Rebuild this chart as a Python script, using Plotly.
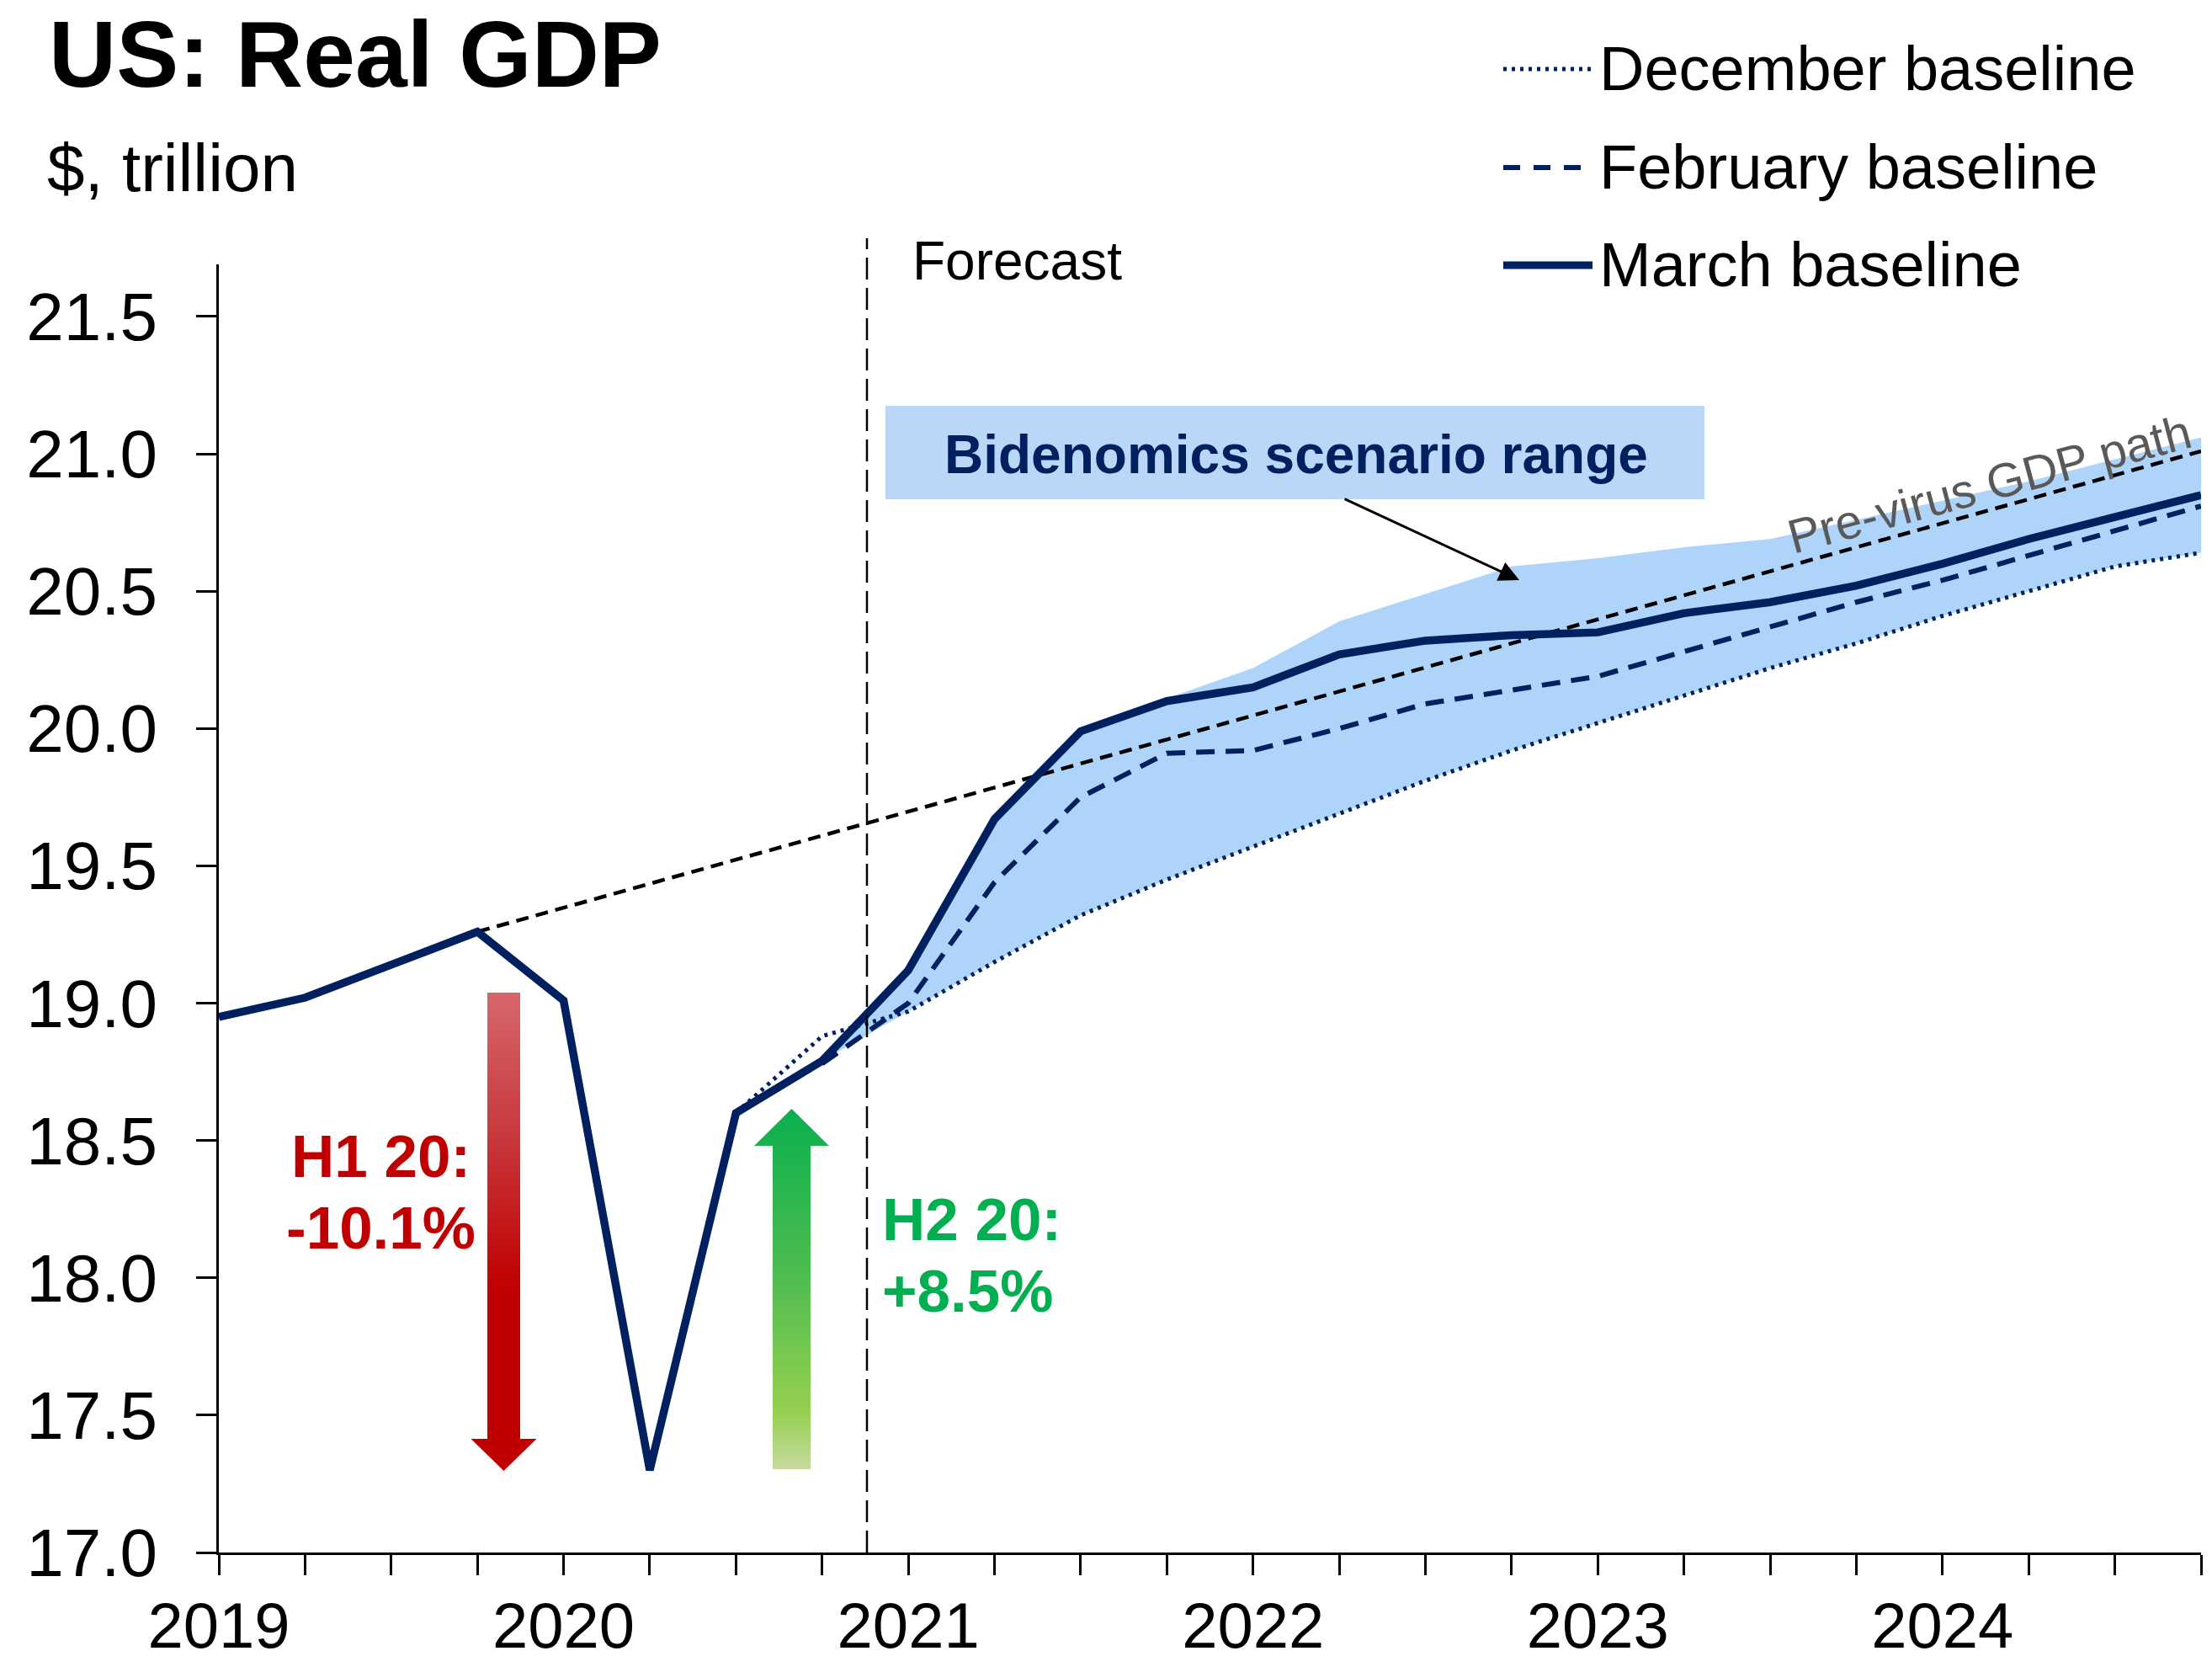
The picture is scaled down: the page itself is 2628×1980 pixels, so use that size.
import plotly.graph_objects as go

# ---------------- data ----------------
quarters = ["2019Q1", "2019Q2", "2019Q3", "2019Q4",
            "2020Q1", "2020Q2", "2020Q3", "2020Q4",
            "2021Q1", "2021Q2", "2021Q3", "2021Q4",
            "2022Q1", "2022Q2", "2022Q3", "2022Q4",
            "2023Q1", "2023Q2", "2023Q3", "2023Q4",
            "2024Q1", "2024Q2", "2024Q3", "2024Q4"]

march_baseline = [18.95, 19.02, 19.14, 19.26, 19.01, 17.30, 18.60, 18.79,
                  19.12, 19.67, 19.99, 20.10, 20.15, 20.27, 20.32, 20.34,
                  20.35, 20.42, 20.46, 20.52, 20.60, 20.69, 20.77, 20.85]

december_quarters = quarters[6:]
december_baseline = [18.60, 18.88,
                     18.97, 19.15, 19.32, 19.45,
                     19.57, 19.69, 19.81, 19.92,
                     20.02, 20.12, 20.22, 20.31,
                     20.41, 20.50, 20.59, 20.64]

february_quarters = quarters[7:]
february_baseline = [18.78,
                     19.00, 19.44, 19.75, 19.91,
                     19.92, 20.00, 20.09, 20.14,
                     20.19, 20.28, 20.37, 20.46,
                     20.54, 20.63, 20.72, 20.81]

range_quarters = quarters[7:]
range_high = [18.79,
              19.12, 19.67, 19.99, 20.11,
              20.22, 20.39, 20.49, 20.59,
              20.62, 20.66, 20.69, 20.76,
              20.83, 20.90, 20.98, 21.06]
range_low = [18.79,
             18.97, 19.15, 19.32, 19.45,
             19.57, 19.69, 19.81, 19.92,
             20.02, 20.12, 20.22, 20.31,
             20.41, 20.50, 20.59, 20.64]

previrus_quarters = ["2019Q4", "2020Q4", "2021Q4", "2022Q4", "2023Q4", "2024Q4"]
previrus_path = [19.26, 19.61, 19.96, 20.31, 20.66, 21.01]

year_labels = ["2019", "2020", "2021", "2022", "2023", "2024"]
y_ticks = [17.0, 17.5, 18.0, 18.5, 19.0, 19.5, 20.0, 20.5, 21.0, 21.5]

h1_change = ["H1 20:", "-10.1%"]
h2_change = ["H2 20:", "+8.5%"]


def qpos(label):
    return int(label[:4]) + (int(label[-1]) - 1) / 4.0


# ---------------- layout constants ----------------
W, H = 2628, 1980
L, R, T, B = 260, 2615, 314, 1844
X0, X1 = 2019.0, 2024.75
Y0, Y1 = 17.0, 21.69
FONT = "Liberation Sans, Arial, sans-serif"
NAVY = "#002060"
RED = "#C00000"
GREEN = "#00B050"


def px2x(px):
    return X0 + (px - L) / (R - L) * (X1 - X0)


def py2y(py):
    return Y0 + (B - py) / (B - T) * (Y1 - Y0)


def pxp(px):
    return (px - L) / (R - L)


def pyp(py):
    return (B - py) / (B - T)


fig = go.Figure()

# scenario range
rx = [qpos(q) for q in range_quarters]
fig.add_trace(go.Scatter(
    x=rx + rx[::-1], y=range_high + range_low[::-1],
    fill="toself", fillcolor="#AFD4FA", line=dict(width=0),
    mode="lines", hoverinfo="skip", showlegend=False))

# pre-virus path
fig.add_trace(go.Scatter(
    x=[qpos(q) for q in previrus_quarters], y=previrus_path,
    mode="lines", line=dict(color="black", width=4.5, dash="15px,9px"),
    showlegend=False))

# December baseline
fig.add_trace(go.Scatter(
    x=[qpos(q) for q in december_quarters], y=december_baseline,
    mode="lines", line=dict(color=NAVY, width=5, dash="4px,6px"),
    showlegend=False))

# February baseline
fig.add_trace(go.Scatter(
    x=[qpos(q) for q in february_quarters], y=february_baseline,
    mode="lines", line=dict(color=NAVY, width=6, dash="22px,13px"),
    showlegend=False))

# March baseline
fig.add_trace(go.Scatter(
    x=[qpos(q) for q in quarters], y=march_baseline,
    mode="lines", line=dict(color=NAVY, width=9.5),
    showlegend=False))


# gradient block arrows
def block_arrow(cx_px, bar_w, head_w, y_base, y_head, y_tip):
    xs_px = [cx_px - bar_w / 2, cx_px - bar_w / 2, cx_px - head_w / 2, cx_px,
             cx_px + head_w / 2, cx_px + bar_w / 2, cx_px + bar_w / 2]
    ys_px = [y_base, y_head, y_head, y_tip, y_head, y_head, y_base]
    xs = [px2x(v) for v in xs_px] + [px2x(xs_px[0])]
    ys = [py2y(v) for v in ys_px] + [py2y(ys_px[0])]
    return xs, ys


rx_, ry_ = block_arrow(598.5, 39, 78, 1179, 1709, 1747)
fig.add_trace(go.Scatter(
    x=rx_, y=ry_, mode="lines", fill="toself", line=dict(width=0),
    fillgradient=dict(type="vertical",
                      colorscale=[[0, "#C00000"], [0.38, "#C00000"],
                                  [0.7, "#C8383C"], [1, "#D6676B"]]),
    hoverinfo="skip", showlegend=False))

gx_, gy_ = block_arrow(940.5, 45, 89, 1745, 1361, 1317)
fig.add_trace(go.Scatter(
    x=gx_, y=gy_, mode="lines", fill="toself", line=dict(width=0),
    fillgradient=dict(type="vertical",
                      colorscale=[[0, "#C6DA9E"], [0.16, "#96D050"],
                                  [0.55, "#4CBC50"], [1, "#0AB04E"]]),
    hoverinfo="skip", showlegend=False))

shapes = []
annotations = []

# forecast divider
shapes.append(dict(type="line", xref="paper", yref="paper",
                   x0=pxp(1030), x1=pxp(1030), y0=0, y1=pyp(283),
                   line=dict(color="black", width=2.5, dash="26px,10px")))

# scenario label box
shapes.append(dict(type="rect", xref="paper", yref="paper",
                   x0=pxp(1052), x1=pxp(2025), y0=pyp(593), y1=pyp(482),
                   fillcolor="#BAD7F8", line=dict(width=0), layer="above"))

# legend (manual)
legend_rows = [("December baseline", 82, dict(color=NAVY, width=5, dash="4px,6px")),
               ("February baseline", 199, dict(color=NAVY, width=6, dash="20px,16px")),
               ("March baseline", 315, dict(color=NAVY, width=9))]
for name, yc, ln in legend_rows:
    shapes.append(dict(type="line", xref="paper", yref="paper",
                       x0=pxp(1786), x1=pxp(1892), y0=pyp(yc), y1=pyp(yc), line=ln))
    annotations.append(dict(text=name, xref="paper", yref="paper",
                            x=pxp(1898), y=pyp(yc - 1), xanchor="left", yanchor="middle",
                            showarrow=False, font=dict(family=FONT, size=74, color="black")))


def text(t, px, py, size, color="black", bold=False, xanchor="left", angle=0):
    annotations.append(dict(
        text=("<b>%s</b>" % t) if bold else t, xref="paper", yref="paper",
        x=pxp(px), y=pyp(py), xanchor=xanchor, yanchor="middle",
        showarrow=False, textangle=angle,
        font=dict(family=FONT, size=size, color=color)))


text("US: Real GDP", 56, 65, 111, bold=True)
text("$, trillion", 54, 199, 80)
text("Forecast", 1082, 310, 64)
text("Bidenomics scenario range", 1540, 540, 64, color=NAVY, bold=True, xanchor="center")
text("Pre-virus GDP path", 2363, 575, 57, color="#595959", xanchor="center", angle=-15)
text(h1_change[0], 452, 1373, 71, color=RED, bold=True, xanchor="center")
text(h1_change[1], 452, 1458, 71, color=RED, bold=True, xanchor="center")
text(h2_change[0], 1046, 1448, 71, color=GREEN, bold=True)
text(h2_change[1], 1046, 1533, 71, color=GREEN, bold=True)

# pointer arrow from label box to the scenario range
annotations.append(dict(
    text="", x=px2x(1805), y=py2y(689), xref="x", yref="y",
    ax=px2x(1596), ay=py2y(592), axref="x", ayref="y",
    showarrow=True, arrowhead=2, arrowsize=1.6, arrowwidth=3, arrowcolor="black"))

tick_vals = [qpos(q) for q in quarters]
tick_text = [q[:4] if q.endswith("Q1") and q[:4] in year_labels else "" for q in quarters]

fig.update_layout(
    template="none",
    width=W, height=H, autosize=False,
    margin=dict(l=L, r=W - R, t=T, b=H - B, pad=0),
    paper_bgcolor="white", plot_bgcolor="white",
    showlegend=False,
    shapes=shapes, annotations=annotations,
    xaxis=dict(range=[X0, X1], tickmode="array", tickvals=tick_vals, ticktext=tick_text,
               ticks="outside", ticklen=24, tickwidth=2.5, tickcolor="black",
               showline=True, linewidth=3, linecolor="black", automargin=False,
               showgrid=False, zeroline=False, ticklabelstandoff=-5,
               tickfont=dict(family=FONT, size=76, color="black")),
    yaxis=dict(range=[Y0, Y1], tickmode="array", tickvals=y_ticks,
               ticktext=["%.1f" % v for v in y_ticks],
               ticks="outside", ticklen=24, tickwidth=2.5, tickcolor="black",
               showline=True, linewidth=3, linecolor="black", automargin=False,
               showgrid=False, zeroline=False, ticklabelstandoff=30,
               tickfont=dict(family=FONT, size=80, color="black")),
)

fig.write_html("out.html")
